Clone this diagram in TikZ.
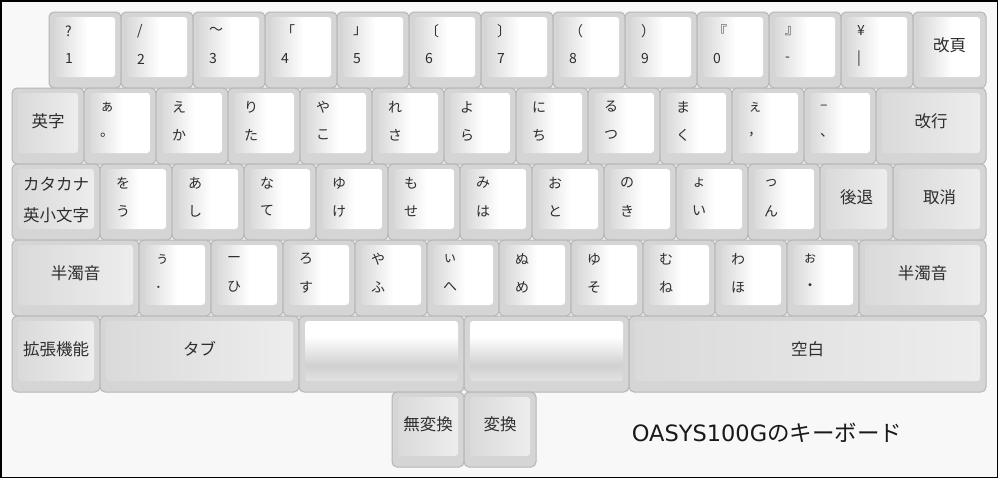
\documentclass[tikz,border=0pt]{standalone}
\usepackage{fontspec}
\setmainfont{Noto Sans CJK JP}
\newfontfamily\dvs{DejaVu Sans}
\definecolor{bg}{HTML}{F8F8F8}
\definecolor{kbody}{HTML}{D5D5D5}
\definecolor{kedge}{HTML}{B6B6B6}
\definecolor{kfaceL}{HTML}{D9D9D9}
\definecolor{ffaceL}{HTML}{DADADA}
\definecolor{ffaceR}{HTML}{EDEDED}
\definecolor{spcD}{HTML}{D0D0D0}
\definecolor{spcB}{HTML}{E2E2E2}
\definecolor{ktext}{HTML}{2E2E2E}
\pgfdeclarehorizontalshading{charface}{100bp}{color(0bp)=(kfaceL); color(25bp)=(kfaceL); color(52bp)=(white); color(100bp)=(white)}
\pgfdeclarehorizontalshading{funcface}{100bp}{color(0bp)=(ffaceL); color(25bp)=(ffaceL); color(75bp)=(ffaceR); color(100bp)=(ffaceR)}
\pgfdeclareverticalshading{spaceface}{100bp}{color(0bp)=(spcB); color(25bp)=(spcB); color(38bp)=(spcD); color(62bp)=(white); color(100bp)=(white)}
\newcommand{\ckey}[5]{%
  \node[body, anchor=north west, minimum width=72pt, minimum height=76pt] (#1) at (#2,#3) {};
  \path[shading=charface, rounded corners=3pt] (#2+6,#3+5) rectangle (#2+66,#3+65);
  \node[lbl] (#1t) at (#2+16,#3+19) {#4};
  \node[lbl] (#1b) at (#2+16,#3+47) {#5};
}
\newcommand{\fkey}[7]{%
  \node[body, anchor=north west, minimum width={(#4-#2)*1pt}, minimum height={(#5-#3)*1pt}] (#1) at (#2,#3) {};
  \path[shading=#7, rounded corners=3pt] (#2+6,#3+5) rectangle (#4-6,#5-11);
  \node[flbl] (#1l) at ({(#2+#4)/2},{(#3+#5)/2-5}) {#6};
}
\begin{document}
\begin{tikzpicture}[x=1pt,y=-1pt,
  body/.style={draw=kedge, fill=kbody, line width=1pt, rounded corners=5pt, inner sep=0pt, outer sep=0pt},
  lbl/.style={anchor=west, inner sep=0pt, text=ktext, font=\fontsize{14}{14}\selectfont},
  flbl/.style={inner sep=0pt, text=ktext, font=\fontsize{16.5}{16.5}\selectfont}]
\useasboundingbox (0,0) rectangle (1000,480);
\fill[white] (0,0) rectangle (1000,480);
\draw[black, fill=bg, line width=1.5pt] (1,1) rectangle (997.5,477.5);
% row 1
\ckey{r1a}{49}{12}{?}{1}
\ckey{r1b}{121}{12}{/}{2}
\ckey{r1c}{193}{12}{〜}{3}
\ckey{r1d}{265}{12}{「}{4}
\ckey{r1e}{337}{12}{」}{5}
\ckey{r1f}{409}{12}{〔}{6}
\ckey{r1g}{481}{12}{〕}{7}
\ckey{r1h}{553}{12}{（}{8}
\ckey{r1i}{625}{12}{）}{9}
\ckey{r1j}{697}{12}{『}{0}
\ckey{r1k}{769}{12}{』}{-}
\ckey{r1l}{841}{12}{¥}{|}
\fkey{r1m}{913}{12}{986}{88}{改頁}{charface}
% row 2
\fkey{r2a}{12}{88}{84}{164}{英字}{funcface}
\ckey{r2b}{84}{88}{ぁ}{。}
\ckey{r2c}{156}{88}{え}{か}
\ckey{r2d}{228}{88}{り}{た}
\ckey{r2e}{300}{88}{や}{こ}
\ckey{r2f}{372}{88}{れ}{さ}
\ckey{r2g}{444}{88}{よ}{ら}
\ckey{r2h}{516}{88}{に}{ち}
\ckey{r2i}{588}{88}{る}{つ}
\ckey{r2j}{660}{88}{ま}{く}
\ckey{r2k}{732}{88}{ぇ}{，}
\ckey{r2l}{804}{88}{–}{、}
\fkey{r2m}{876}{88}{986}{164}{改行}{funcface}
% row 3
\fkey{r3a}{12}{164}{100}{240}{}{funcface}
\node[flbl] (r3a1) at (56,184) {カタカナ};
\node[flbl] (r3a2) at (56,215) {英小文字};
\ckey{r3b}{100}{164}{を}{う}
\ckey{r3c}{172}{164}{あ}{し}
\ckey{r3d}{244}{164}{な}{て}
\ckey{r3e}{316}{164}{ゆ}{け}
\ckey{r3f}{388}{164}{も}{せ}
\ckey{r3g}{460}{164}{み}{は}
\ckey{r3h}{532}{164}{お}{と}
\ckey{r3i}{604}{164}{の}{き}
\ckey{r3j}{676}{164}{ょ}{い}
\ckey{r3k}{748}{164}{っ}{ん}
\fkey{r3l}{820}{164}{893}{240}{後退}{funcface}
\fkey{r3m}{893}{164}{986}{240}{取消}{funcface}
% row 4
\fkey{r4a}{12}{240}{139}{316}{半濁音}{funcface}
\ckey{r4b}{139}{240}{ぅ}{．}
\ckey{r4c}{211}{240}{ー}{ひ}
\ckey{r4d}{283}{240}{ろ}{す}
\ckey{r4e}{355}{240}{や}{ふ}
\ckey{r4f}{427}{240}{ぃ}{へ}
\ckey{r4g}{499}{240}{ぬ}{め}
\ckey{r4h}{571}{240}{ゆ}{そ}
\ckey{r4i}{643}{240}{む}{ね}
\ckey{r4j}{715}{240}{わ}{ほ}
\ckey{r4k}{787}{240}{ぉ}{・}
\fkey{r4l}{859}{240}{986}{316}{半濁音}{funcface}
% row 5
\fkey{r5a}{12}{316}{100}{392}{拡張機能}{funcface}
\fkey{r5b}{100}{316}{299}{392}{タブ}{funcface}
\fkey{r5c}{299}{316}{464}{392}{}{spaceface}
\fkey{r5d}{464}{316}{629}{392}{}{spaceface}
\fkey{r5e}{629}{316}{986}{392}{空白}{funcface}
% row 6
\fkey{r6a}{392}{392}{464}{467}{無変換}{funcface}
\fkey{r6b}{464}{392}{536}{467}{変換}{funcface}
% title
\node[inner sep=0pt, text=black!90, font=\fontsize{22.5}{22.5}\selectfont] (title) at (767,433) {{\dvs OASYS100G}のキーボード};
\end{tikzpicture}
\end{document}
